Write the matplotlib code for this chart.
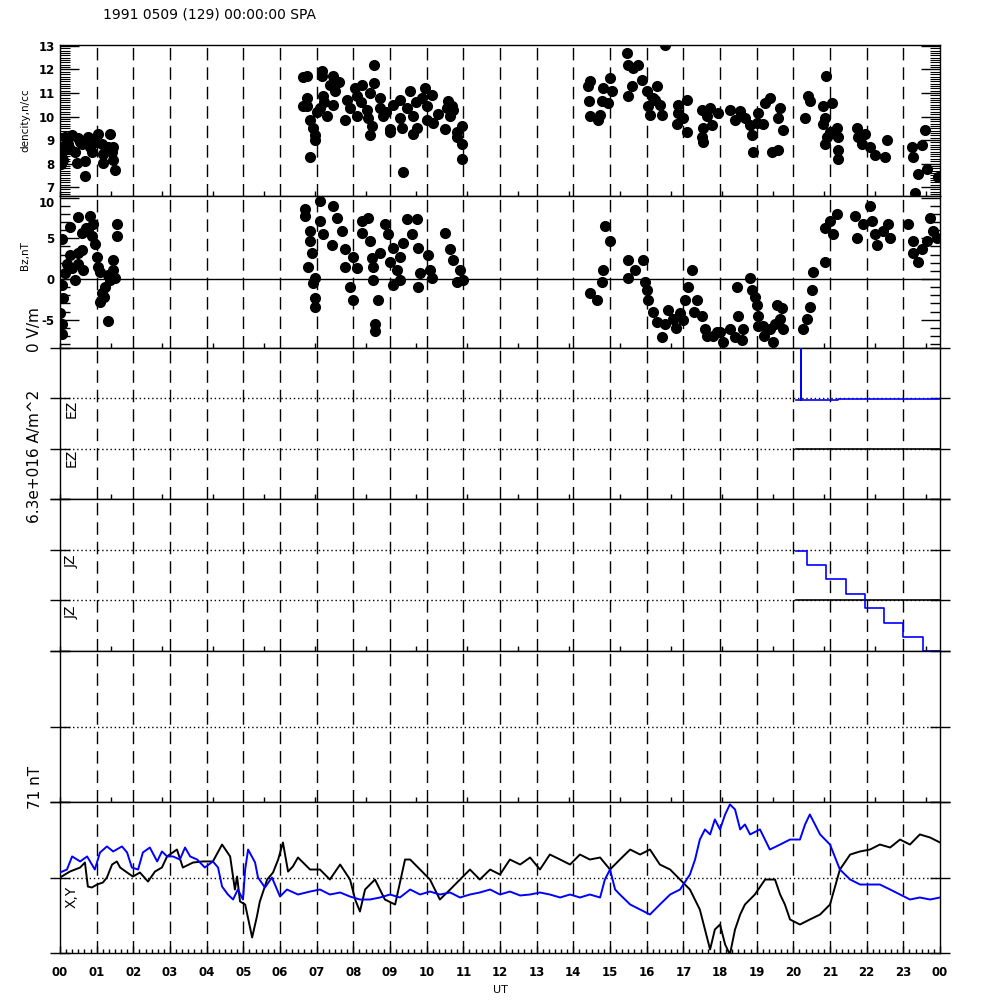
import matplotlib
matplotlib.use("Agg")
import matplotlib.pyplot as plt
import matplotlib.transforms as mtransforms
from matplotlib.ticker import MultipleLocator
import numpy as np

# ---- data (time in UT hours) ----
dens_t = [0.14, 0.33, 0.76, 1.04, 1.36, 0.22, 0.60, 1.15, 1.45, 0.05, 0.41, 0.87, 1.17, 1.42,
          0.08, 0.46, 0.68, 1.17, 1.45, 1.50, 0.68, 0.00, 0.27, 0.55, 0.95, 1.31, 0.00, 0.82,
          0.49, 0.02,
          6.63, 6.63, 6.74, 7.14, 7.14, 7.44, 7.61, 7.36, 8.56, 8.56, 8.24, 8.05, 8.45, 9.55,
          9.95, 10.14, 6.74, 7.17, 7.50, 7.83, 8.10, 8.73, 9.27, 9.87, 10.58, 6.74, 7.09, 7.44,
          7.91, 8.37, 8.73, 9.08, 9.46, 10.01, 10.55, 10.72, 6.82, 7.28, 7.77, 8.10, 8.40, 8.81,
          9.27, 9.63, 10.01, 10.17, 10.64, 6.90, 8.51, 9.00, 9.33, 9.74, 10.50, 10.96, 6.95,
          8.45, 9.00, 9.63, 10.83, 10.96, 6.95, 6.82, 10.96, 9.35, 10.83, 10.69, 7.00, 7.20,
          8.20, 8.90, 9.70, 10.30,
          14.45, 14.40, 15.00, 14.81, 15.05, 14.43, 14.78, 14.94, 14.45, 14.73, 14.67, 15.46,
          15.49, 15.63, 15.76, 16.50, 15.87, 15.60, 15.49, 16.01, 16.28, 16.17, 16.36, 16.04,
          16.09, 16.42, 16.23, 16.85, 17.10, 16.85, 16.99, 16.83, 17.10, 17.51, 17.73, 17.94,
          17.64, 17.53, 17.78, 17.51, 17.53, 18.27, 18.54, 18.41, 18.68, 18.82, 18.87, 18.90,
          19.03, 19.23, 19.36, 19.01, 19.17, 19.42, 19.58, 19.64, 19.58, 19.72, 20.32, 20.40,
          20.45, 20.89, 20.81, 21.05, 20.86, 20.81, 21.00, 21.19, 20.92, 20.86, 21.22, 21.22,
          21.22, 21.74, 21.76, 21.87, 22.09, 21.95, 22.23, 22.50, 22.55, 23.24, 23.51, 23.26,
          23.40, 23.64, 23.59, 23.94, 23.32]
dens_v = [9.11, 9.20, 9.11, 9.24, 9.24, 8.82, 8.82, 8.82, 8.69, 8.48, 8.48, 8.48, 8.40, 8.48,
          8.15, 8.02, 8.10, 8.02, 8.15, 7.73, 7.47, 8.70, 8.60, 8.90, 8.90, 8.70, 8.25, 8.70,
          9.10, 8.00,
          11.68, 10.46, 11.72, 11.93, 11.72, 11.72, 11.47, 11.34, 12.18, 11.42, 11.34, 11.21,
          11.00, 11.09, 11.21, 10.92, 10.79, 10.88, 11.09, 10.71, 10.88, 10.79, 10.71, 10.79,
          10.67, 10.46, 10.37, 10.50, 10.37, 10.29, 10.37, 10.50, 10.37, 10.46, 10.37, 10.29,
          9.87, 10.04, 9.87, 10.04, 9.95, 10.04, 9.95, 10.04, 9.83, 9.74, 10.04, 9.53, 9.58,
          9.45, 9.49, 9.53, 9.45, 9.58, 9.20, 9.20, 9.32, 9.24, 9.11, 8.82, 8.99, 8.27, 8.19,
          7.64, 9.32, 10.46, 10.20, 10.60, 10.60, 10.20, 10.60, 10.10,
          11.51, 11.30, 11.63, 11.21, 11.09, 10.67, 10.67, 10.58, 10.04, 10.08, 9.83, 12.68,
          12.18, 12.05, 12.18, 13.05, 11.55, 11.30, 10.88, 11.09, 11.30, 10.79, 10.50, 10.46,
          10.08, 10.08, 10.71, 10.50, 10.71, 10.16, 9.95, 9.66, 9.32, 10.29, 10.37, 10.16,
          10.04, 9.53, 9.62, 9.11, 8.90, 10.29, 10.25, 9.83, 9.95, 9.62, 9.20, 8.48, 10.16,
          10.58, 10.79, 9.74, 9.66, 8.48, 8.57, 10.37, 9.95, 9.41, 9.95, 10.88, 10.67, 11.72,
          10.46, 10.58, 9.95, 9.66, 9.32, 9.53, 9.11, 8.82, 9.11, 8.57, 8.19, 9.53, 9.11, 8.82,
          8.69, 9.24, 8.36, 8.27, 8.99, 8.69, 8.78, 8.27, 7.56, 7.77, 9.41, 7.43, 6.75]

bz_t = [0.05, 0.49, 0.82, 0.27, 0.60, 0.76, 0.90, 0.87, 0.95, 1.55, 1.55, 0.60, 0.49, 0.27,
        1.01, 1.04, 1.09, 0.63, 0.33, 0.14, 0.05, 0.41, 1.45, 1.45, 1.36, 1.23, 1.50, 1.15,
        1.09, 0.08, 0.00, 1.31, 0.05, 0.05, 0.70, 0.20, 0.50, 1.30, 1.20,
        6.68, 6.68, 6.82, 6.82, 6.87, 6.76, 6.95, 6.90, 6.95, 6.95, 7.09, 7.09, 7.17, 7.42,
        7.44, 7.55, 7.69, 7.77, 7.77, 7.99, 8.10, 7.91, 7.99, 8.24, 8.24, 8.40, 8.45, 8.51,
        8.54, 8.54, 8.67, 8.59, 8.59, 8.86, 8.94, 8.73, 9.08, 9.00, 9.19, 9.08, 9.27, 9.35,
        9.46, 9.74, 9.60, 9.76, 9.27, 9.82, 9.76, 10.04, 10.09, 10.14, 10.50, 10.64, 10.72,
        10.91, 10.99, 10.83,
        14.45, 14.64, 14.78, 14.81, 14.86, 15.00, 15.49, 15.68, 15.90, 15.49, 15.95, 16.01,
        16.04, 16.17, 16.28, 16.42, 16.58, 16.72, 16.91, 17.04, 17.13, 17.23, 17.37, 17.51,
        17.59, 17.64, 17.92, 18.08, 18.27, 18.46, 18.49, 18.41, 18.63, 18.82, 18.87, 18.95,
        19.01, 19.03, 19.03, 19.17, 19.36, 19.44, 19.55, 19.69, 19.64, 19.72, 20.26, 20.37,
        20.45, 20.51, 20.53, 20.86, 20.86, 21.00, 21.19, 21.08, 21.68, 21.74, 21.90, 22.09,
        22.14, 22.23, 22.28, 22.44, 22.58, 22.64, 23.13, 23.26, 23.26, 23.40, 23.51, 23.64,
        23.73, 23.81, 23.92, 16.50, 16.80, 17.00, 17.30, 17.80, 18.00, 18.60, 19.20, 19.50]
bz_v = [4.96, 7.63, 7.75, 6.42, 5.69, 5.93, 6.78, 5.33, 4.36, 6.78, 5.33, 3.51, 3.15, 2.91,
        2.66, 1.45, 0.85, 1.09, 1.33, 0.73, -0.73, -0.12, 2.30, 1.09, -0.12, -0.97, 0.12,
        -1.69, -2.78, -2.30, -4.12, -5.20, -5.57, -6.78, 6.30, 1.80, 1.80, 0.50, -2.20,
        8.60, 7.75, 5.93, 4.72, 3.15, 1.45, 0.12, -0.48, -2.30, -3.39, 9.56, 7.14, 5.57, 4.12,
        8.96, 7.51, 5.93, 3.75, 1.45, 2.66, 1.33, -0.97, -2.54, 7.14, 5.69, 7.51, 4.72, 2.54,
        1.45, -0.12, -2.54, -5.57, -6.42, 6.78, 5.57, 3.15, 3.87, 2.06, 1.09, -0.73, 2.66,
        4.48, 7.38, 7.38, 5.57, 3.87, -0.12, 0.73, -0.97, 2.91, 1.09, 0.12, 5.69, 3.75, 2.30,
        1.09, -0.12, -0.36,
        -1.69, -2.54, -0.36, 1.09, 6.54, 4.72, 2.30, 1.09, 2.30, 0.12, -0.36, -1.33, -2.54,
        -3.99, -5.33, -7.14, -3.75, -4.96, -4.12, -2.54, -0.97, 1.09, -2.54, -4.60, -6.17,
        -7.02, -6.54, -7.75, -6.17, -0.97, -4.60, -7.14, -6.17, 0.12, -1.33, -2.18, -3.15,
        -4.60, -5.81, -5.81, -6.17, -7.75, -3.15, -3.51, -4.96, -6.17, -6.17, -4.96, -3.39,
        -1.33, 0.85, 2.06, 6.30, 7.14, 7.99, 5.57, 7.75, 5.08, 6.78, 8.96, 7.14, 5.57, 4.12,
        5.93, 6.78, 5.08, 6.78, 4.72, 3.15, 2.06, 3.75, 4.72, 7.51, 5.93, 5.08, -5.50, -6.00,
        -5.00, -4.00, -7.00, -6.50, -7.50, -7.00, -5.50]

# EZ / JZ step traces (panel units, baselines at 2 and 1)
ez_t = [20.08, 20.20, 20.22, 21.22, 23.67, 24.00]
ez_v = [1.967, 3.20, 1.967, 1.98, 1.99, 1.99]
ez2_t = [20.07, 24.00]
ez2_v = [1.0, 1.0]
jz_t = [20.07, 20.37, 20.89, 21.44, 21.95, 22.47, 22.99, 23.54, 24.00]
jz_v = [1.97, 1.70, 1.42, 1.13, 0.85, 0.55, 0.28, 0.0, 0.0]
jz2_t = [20.07, 24.00]
jz2_v = [1.0, 1.0]

# magnetometer X (black) and Y (blue), nT
mx_t = [0.00, 0.27, 0.55, 0.68, 0.76, 0.87, 1.01, 1.17, 1.28, 1.42, 1.55, 1.64, 1.83, 1.99,
        2.18, 2.40, 2.59, 2.78, 2.92, 3.19, 3.35, 3.63, 3.90, 4.17, 4.42, 4.64, 4.77, 4.83,
        4.91, 5.05, 5.24, 5.37, 5.45, 5.65, 5.81, 5.95, 6.08, 6.22, 6.35, 6.49, 6.82, 7.09,
        7.36, 7.64, 7.91, 8.05, 8.18, 8.32, 8.59, 8.86, 9.14, 9.41, 9.55, 9.82, 10.09, 10.36,
        10.64, 10.91, 11.18, 11.45, 11.73, 12.00, 12.27, 12.55, 12.82, 13.09, 13.36, 13.64,
        13.91, 14.18, 14.45, 14.73, 15.00, 15.27, 15.55, 15.82, 16.09, 16.36, 16.64, 16.91,
        17.18, 17.45, 17.73, 17.86, 18.00, 18.14, 18.27, 18.41, 18.55, 18.68, 18.95, 19.23,
        19.50, 19.64, 19.77, 19.91, 20.18, 20.45, 20.73, 21.00, 21.27, 21.55, 21.82, 22.09,
        22.36, 22.64, 22.91, 23.18, 23.45, 23.73, 24.00]
mx_v = [0, 5.6, 9.4, 14.1, -8.5, -9.4, -6.6, -4.7, 0, 12.2, 15.1, 9.4, 4.7, 0.9, 4.7, -3.8,
        5.6, 9.4, 19.8, 26.3, 9.4, 14.1, 15.1, 15.1, 31.0, 19.8, -11.3, 0.9, -22.6, -25.4,
        -56.4, -36.7, -22.6, -1.9, 4.7, 16.9, 32.9, 5.6, 10.3, 18.8, 7.5, 7.5, -1.9, 12.2,
        -1.9, -20.7, -32.0, -11.3, -1.9, -20.7, -25.4, 16.9, 16.9, 7.5, -1.9, -20.7, -11.3,
        -1.9, 7.5, -1.9, 7.5, 2.8, 16.9, 12.2, 18.8, 7.5, 21.6, 16.9, 12.2, 21.6, 16.9, 18.8,
        7.5, 16.9, 26.3, 21.6, 26.3, 12.2, 7.5, -1.9, -11.3, -30.1, -67.7, -48.9, -44.2,
        -63.0, -72.4, -48.9, -34.8, -25.4, -16.0, -1.9, -1.9, -16.0, -25.4, -39.5, -44.2,
        -39.5, -34.8, -25.4, 7.5, 21.6, 24.5, 26.3, 31.0, 28.2, 35.7, 31.0, 40.5, 37.6, 32.9]
my_t = [0.00, 0.19, 0.33, 0.55, 0.74, 0.95, 1.09, 1.28, 1.45, 1.69, 1.83, 1.96, 2.13, 2.26,
        2.45, 2.65, 2.78, 2.92, 3.08, 3.27, 3.41, 3.55, 3.74, 3.95, 4.17, 4.31, 4.42, 4.58,
        4.72, 4.85, 4.99, 5.05, 5.13, 5.32, 5.40, 5.59, 5.78, 6.00, 6.19, 6.49, 6.82, 7.09,
        7.36, 7.64, 7.91, 8.18, 8.45, 8.73, 9.00, 9.27, 9.55, 9.82, 10.09, 10.36, 10.64,
        10.91, 11.18, 11.45, 11.73, 12.00, 12.27, 12.55, 12.82, 13.09, 13.36, 13.64, 13.91,
        14.18, 14.45, 14.73, 14.86, 15.00, 15.14, 15.27, 15.55, 15.82, 16.09, 16.36, 16.64,
        16.91, 17.18, 17.32, 17.45, 17.59, 17.73, 17.86, 18.00, 18.14, 18.27, 18.41, 18.55,
        18.68, 18.82, 19.09, 19.36, 19.64, 19.91, 20.18, 20.32, 20.45, 20.59, 20.73, 21.00,
        21.27, 21.55, 21.82, 22.09, 22.36, 22.64, 22.91, 23.18, 23.45, 23.73, 24.00]
my_v = [4.7, 7.5, 19.8, 15.1, 19.8, 7.5, 23.5, 29.2, 24.5, 29.2, 23.5, 9.4, 7.5, 23.5, 28.2,
        15.1, 24.5, 19.8, 19.8, 16.9, 28.2, 19.8, 16.9, 9.4, 15.1, 9.4, -8.5, -16.0, -20.7,
        -11.3, -20.7, 7.5, 26.3, 14.1, 0, -9.4, 0, -17.9, -11.3, -16.0, -13.2, -11.3, -16.0,
        -14.1, -17.9, -20.7, -20.7, -18.8, -16.0, -18.8, -11.3, -16.0, -13.2, -16.0, -14.1,
        -18.8, -16.0, -14.1, -11.3, -16.0, -13.2, -16.9, -16.0, -14.1, -16.0, -18.8, -16.0,
        -18.8, -16.0, -18.8, -1.9, 7.5, -11.3, -16.0, -25.4, -30.1, -34.8, -25.4, -16.0,
        -11.3, 2.8, 16.9, 35.7, 45.2, 40.5, 54.6, 45.2, 59.3, 68.7, 64.0, 45.2, 49.9, 40.5,
        45.2, 26.3, 31.0, 35.7, 35.7, 49.9, 59.3, 49.9, 40.5, 31.0, 7.5, -1.9, -6.6, -6.6,
        -6.6, -11.3, -16.0, -20.7, -18.8, -20.7, -18.8]

hour_labels = ["%02d" % (h % 24) for h in range(25)]

# ---- layout ----
plt.rcParams["font.family"] = "DejaVu Sans"
plt.rcParams["axes.unicode_minus"] = False
fig = plt.figure(figsize=(10, 10), dpi=100)
edges = [45, 196, 348, 499, 651, 802, 953]
axes = []
for i in range(6):
    top, bot = edges[i], edges[i + 1]
    ax = fig.add_axes([0.06, 1 - bot / 1000, 0.88, (bot - top) / 1000])
    ax.set_xlim(0, 24)
    for sp in ax.spines.values():
        sp.set_linewidth(1.0)
    for h in range(1, 24):
        ax.axvline(h, color="k", lw=1.0, ls=(0, (9, 5)), zorder=1)
    axes.append(ax)

secs_ticks = np.arange(0, 86400, 5000) / 3600
for ax in axes[:5]:
    ax.set_xticks(secs_ticks)
    ax.tick_params(axis="x", direction="in", length=3.6, width=1, labelbottom=False)

dot = dict(ls="none", marker="o", ms=7, color="k", zorder=3)
tkw = dict(labelsize=8.5, labelcolor="k", width=1)

# density
ax = axes[0]
ax.plot(dens_t, dens_v, **dot)
ax.set_ylim(6.62, 13.04)
ax.set_yticks(range(7, 14))
ax.yaxis.set_minor_locator(MultipleLocator(0.1))
ax.tick_params(axis="y", which="major", direction="in", length=13.5, left=True, right=True, pad=4, **tkw)
ax.tick_params(axis="y", which="minor", direction="in", length=7, left=True, right=True, width=0.8)
for lb in ax.get_yticklabels():
    lb.set_fontweight("bold")

# Bz
ax = axes[1]
ax.plot(bz_t, bz_v, **dot)
ax.axhline(0, color="k", lw=1.0)
ax.set_ylim(-8.47, 10.2)
ax.set_yticks([-5, 0, 5, 10])
ax.yaxis.set_minor_locator(MultipleLocator(1))
ax.tick_params(axis="y", which="major", direction="in", length=13.5, left=True, right=True, pad=4, **tkw)
ax.tick_params(axis="y", which="minor", direction="in", length=7, left=True, right=True, width=1)
for lb in ax.get_yticklabels():
    lb.set_fontweight("bold")
# top label sits a little below its tick, as in the original
top_lab = ax.get_yticklabels()[-1]
top_lab.set_transform(top_lab.get_transform() + mtransforms.ScaledTranslation(0, -4 / 100, fig.dpi_scale_trans))

# EZ, JZ, empty, X/Y panels
dotted = dict(color="k", lw=1.0, ls=(0, (1, 2)), zorder=1)
ax = axes[2]
ax.set_ylim(0, 3)
ax.set_yticks([0, 1, 2, 3])
for lv in (1, 2):
    ax.axhline(lv, **dotted)
ax.plot(ez2_t, ez2_v, color="k", lw=1.2, zorder=3)
ax.plot(ez_t, ez_v, color="#0000ff", lw=1.2, drawstyle="steps-post", zorder=4)

ax = axes[3]
ax.set_ylim(0, 3)
ax.set_yticks([0, 1, 2, 3])
for lv in (1, 2):
    ax.axhline(lv, **dotted)
ax.plot(jz2_t, jz2_v, color="k", lw=1.2, zorder=3)
ax.plot(jz_t, jz_v, color="#0000ff", lw=1.2, drawstyle="steps-post", zorder=4, clip_on=False)

ax = axes[4]
ax.set_ylim(0, 2)
ax.set_yticks([0, 1, 2])
ax.axhline(1, **dotted)

ax = axes[5]
ax.set_ylim(-71, 71)
ax.set_yticks([-71, 0, 71])
ax.axhline(0, **dotted)
ax.plot(mx_t, mx_v, color="k", lw=1.4, zorder=3)
ax.plot(my_t, my_v, color="#0000ff", lw=1.4, zorder=4)
ax.set_xticks(range(25))
ax.set_xticklabels(hour_labels, fontweight="bold")
ax.xaxis.set_minor_locator(MultipleLocator(1 / 6))
ax.tick_params(axis="x", which="major", direction="in", length=5, width=1, pad=9, labelsize=8.5)
ax.tick_params(axis="x", which="minor", direction="in", length=3, width=1)

for ax in axes[2:]:
    ax.tick_params(axis="y", direction="inout", length=14.4, width=1, left=True, right=True,
                   labelleft=False)

# ---- text ----
fig.text(0.103, 0.985, "1991 0509 (129) 00:00:00 SPA", fontsize=10, ha="left", va="center")
fig.text(0.025, 1 - 120 / 1000, "dencity,n/cc", rotation=90, fontsize=7.5, ha="center", va="center")
fig.text(0.025, 1 - 256 / 1000, "Bz,nT", rotation=90, fontsize=7.5, ha="center", va="center")
fig.text(0.035, 1 - 330 / 1000, "0 V/m", rotation=90, fontsize=11, ha="center", va="center")
fig.text(0.035, 1 - 456 / 1000, "6.3e+016 A/m^2", rotation=90, fontsize=11, ha="center", va="center")
fig.text(0.035, 1 - 787 / 1000, "71 nT", rotation=90, fontsize=11, ha="center", va="center")
for yy, s in [(409, "EZ"), (458, "EZ"), (561, "JZ"), (612, "JZ"), (897, "X,Y")]:
    fig.text(0.072, 1 - yy / 1000, s, rotation=90, fontsize=10, ha="center", va="center")
fig.text(0.5, 0.010, "UT", fontsize=8, ha="center", va="center")

fig.savefig("out.png", dpi=100, facecolor="white")
